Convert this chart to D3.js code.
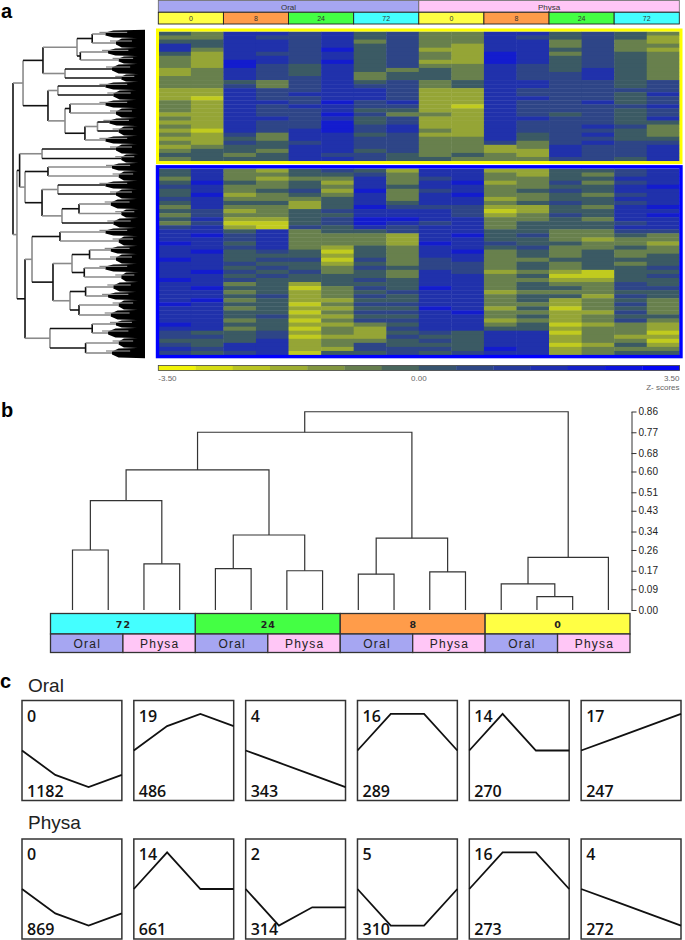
<!DOCTYPE html>
<html>
<head>
<meta charset="utf-8">
<script src="https://cdn.jsdelivr.net/npm/d3@7"></script>
<style>
  body { margin: 0; background: #fff; }
  svg { display: block; font-family: "Liberation Sans", Arial, sans-serif; }
</style>
</head>
<body>
<script>
// ---------- data ----------
var hosts = ["Oral", "Physa"];
var timepoints = ["0", "8", "24", "72"];

// heat map bands, 16 columns: Oral 0,0,8,8,24,24,72,72 then Physa the same
// each digit d is a level, z-score = (d - 3) * 0.8
var heatTop = [
  "3255453422553432", "2254453422543431", "3355452422552421", "5355453421552422",
  "5255463411553421", "3154453421652432", "2155453421653432", "2165463411653432",
  "2164353422543432", "1254353232543532", "1254352332544532", "2254452332544532",
  "2232453423554434", "2242454423554434", "1154455411544444", "1154555411544435",
  "1054455411554434", "2155464511544534", "2154554410544445", "2154453311544434",
  "1154464221543434", "2155453411554435", "1154463411544433", "2154464511544542",
  "1054564521544432", "2142553411534532", "1132554422534433", "2143454422424544",
  "1233554422125445", "2332553422115445", "3323544323215445", "2333554332224435"
];
var heatBottom = [
  "3521343155113345", "3522334255213245", "2521225245223355", "3632315256124245",
  "4522325355223356", "3523416245234355", "3612325256223245", "4522235255123355",
  "3533135355234345", "2522136444113256", "3412345554013355", "2422335554124356",
  "3511346655223255", "2400346545233345", "4510435455233355", "5535233455332244",
  "5645222156342232", "5545222155332122", "6535222165433221", "5545213255342232",
  "5634303256232322", "5533313255232323", "6534404245223333", "5543313244232323",
  "5534324344232334", "5643423254121033", "5534333255230034", "6543334355221133",
  "5523133355232243", "5633024365233244", "5523123455122233", "5534124355233143",
  "5623113355231232", "6533024455221242", "5523113365130232", "5533024456221142",
  "5534113355231233", "5523024455121242", "6533112355230121", "5523021455331221",
  "4334121343550220", "4434011433551211", "3335122343551220", "4355124333550131",
  "5455114443651222", "4345033434551233"
];
var zLegend = [-3.5, 0, 3.5];

// gene dendrogram: leaf groups (rows) and the distance where each group fans out
var rowLeafSize = [8, 10, 8, 8, 10, 8, 8, 10, 8, 10, 8, 10, 8, 10, 9,
                   8, 10, 8, 10, 10, 9, 10,
                   8, 10, 8, 10, 8, 10, 10, 8, 10, 10, 8, 10, 10, 10];
var rowLeafDist = [0.30, 0.22, 0.28, 0.20, 0.25, 0.18, 0.30, 0.24, 0.30, 0.22, 0.27, 0.20, 0.30, 0.22, 0.18,
                   0.25, 0.20, 0.30, 0.22, 0.26, 0.18, 0.24,
                   0.30, 0.20, 0.26, 0.22, 0.30, 0.18, 0.24, 0.28, 0.20, 0.26, 0.22, 0.28, 0.20, 0.25];
// [distance, upper, lower]; numbers are leaf groups
var rowTree = [1.0,
  [0.924,
    [0.773, [0.515, [0.40, 0, 1], [0.49, 2, 3]], [0.606, 4, 5]],
    [0.735, [0.66, 6, 7], [0.606, [0.568, 8, 9], [0.455, [0.36, 10, 11], 12]]]],
  [0.97,
    [0.95, [0.78, 13, 14], [0.909, [0.735, 15, 16], [0.78, [0.66, 17, 18], [0.629, [0.50, 19, 20], 21]]]],
    [0.909,
      [0.856, [0.644, 22, 23], [0.697, [0.553, [0.42, 24, 25], [0.46, 26, 27]], [0.568, [0.45, 28, 29], [0.50, 30, 31]]]],
      [0.72, [0.40, 32, 33], [0.45, 34, 35]]]]
];

// sample dendrogram, leaves 0..15 = 72,24,8,0 x (Oral r1, r2, Physa r1, r2)
var sampleGroups = ["72", "24", "8", "0"];
var sampleTree = [0.859,
  [0.770,
    [0.607, [0.474, [0.26, 0, 1], [0.20, 2, 3]], [0.325, [0.179, 4, 5], [0.170, 6, 7]]],
    [0.311, [0.155, 8, 9], [0.165, 10, 11]]],
  [0.228, [0.113, 12, [0.058, 13, 14]], 15]
];
var distTicks = [0.00, 0.09, 0.17, 0.26, 0.34, 0.43, 0.51, 0.60, 0.68, 0.77, 0.86];

// expression profiles (values at 0, 8, 24, 72 h)
var oralIds = [0, 19, 4, 16, 14, 17];
var oralCounts = [1182, 486, 343, 289, 270, 247];
var oralShapes = [[0, -2, -3, -2], [0, 2, 3, 2], [0, -1, -2, -3], [0, 3, 3, 0], [0, 3, 0, 0], [0, 1, 2, 3]];
var physaIds = [0, 14, 2, 5, 16, 4];
var physaCounts = [869, 661, 314, 310, 273, 272];
var physaShapes = [[0, -2, -3, -2], [0, 3, 0, 0], [0, -3, -1.5, -1.5], [0, -3, -3, 0], [0, 3, 3, 0], [0, -1, -2, -3]];

// ---------- drawing ----------
var width = 685, height = 940;
var svg = d3.select("body").append("svg").attr("width", width).attr("height", height);

function panelLabel(t, x, y) {
  svg.append("text").attr("x", x).attr("y", y)
    .attr("font-size", 20).attr("font-weight", "bold").text(t);
}
panelLabel("a", 1, 18);
panelLabel("b", 1, 417);
panelLabel("c", 0, 688);

function toNode(a) {
  if (typeof a === "number") return { leaf: a };
  return { h: a[0], children: [toNode(a[1]), toNode(a[2])] };
}

// ----- panel a : header -----
var heatLeft = 158.3, heatRight = 679.3;
var heatX = d3.scaleBand().domain(d3.range(16)).range([heatLeft, heatRight]);
var hostX = d3.scaleBand().domain(hosts).range([heatLeft, heatRight]);
var timeX = d3.scaleBand().domain(timepoints).range([0, hostX.bandwidth()]);
var hostColor = d3.scaleOrdinal(hosts, ["#a6a6f2", "#ffc6f6"]);
var timeColor = d3.scaleOrdinal(timepoints, ["#ffff44", "#ff9c4a", "#44ff44", "#44ffff"]);
var zColor = d3.scaleLinear().domain(zLegend).range(["#ffff00", "#3b5a64", "#0000ff"]);

var head = svg.append("g");
head.selectAll("rect.host").data(hosts).join("rect").attr("class", "host")
  .attr("x", d => hostX(d)).attr("y", 0.5)
  .attr("width", hostX.bandwidth()).attr("height", 11.5)
  .attr("fill", d => hostColor(d)).attr("stroke", "#666").attr("stroke-width", 0.8);
head.selectAll("text.host").data(hosts).join("text").attr("class", "host")
  .attr("x", d => hostX(d) + hostX.bandwidth() / 2).attr("y", 9.5)
  .attr("text-anchor", "middle").attr("font-size", 8).attr("fill", "#333").text(d => d);

var cells = d3.cross(hosts, timepoints);
head.selectAll("rect.time").data(cells).join("rect").attr("class", "time")
  .attr("x", d => hostX(d[0]) + timeX(d[1])).attr("y", 12.3)
  .attr("width", timeX.bandwidth()).attr("height", 11.7)
  .attr("fill", d => timeColor(d[1])).attr("stroke", "#222").attr("stroke-width", 0.9);
head.selectAll("text.time").data(cells).join("text").attr("class", "time")
  .attr("x", d => hostX(d[0]) + timeX(d[1]) + timeX.bandwidth() / 2).attr("y", 21)
  .attr("text-anchor", "middle").attr("font-size", 7).attr("fill", "#333").text(d => d[1]);

// ----- panel a : heat map -----
function drawCluster(rows, y0, y1, box, colour, sw) {
  var rowY = d3.scaleBand().domain(d3.range(rows.length)).range([y0, y1]);
  var g = svg.append("g");
  rows.forEach(function (r, i) {
    g.selectAll(null).data(r.split("").map(c => (+c - 3) * 0.8)).join("rect")
      .attr("x", (d, j) => heatX(j)).attr("y", rowY(i))
      .attr("width", heatX.bandwidth() + 0.4).attr("height", rowY.bandwidth() + 0.4)
      .attr("fill", d => zColor(d));
  });
  svg.append("rect").attr("x", box[0]).attr("y", box[1])
    .attr("width", box[2] - box[0]).attr("height", box[3] - box[1])
    .attr("fill", "none").attr("stroke", colour).attr("stroke-width", sw);
}
drawCluster(heatTop, 31.5, 161, [157.5, 30, 681, 162.6], "#ffff00", 3);
drawCluster(heatBottom, 168.5, 355, [157.5, 166.8, 681, 356.6], "#0000ff", 3.4);

// ----- panel a : colour key -----
var keyX = d3.scaleLinear().domain([zLegend[0], zLegend[2]]).range([158.3, 679.5]);
var keySteps = d3.range(zLegend[0], zLegend[2], 0.5);
svg.append("g").selectAll("rect").data(keySteps).join("rect")
  .attr("x", d => keyX(d)).attr("y", 365.5)
  .attr("width", keyX(zLegend[0] + 0.5) - keyX(zLegend[0]) + 0.3).attr("height", 5)
  .attr("fill", d => zColor(d + 0.25));
svg.append("rect").attr("x", keyX(zLegend[0])).attr("y", 365.5)
  .attr("width", keyX(zLegend[2]) - keyX(zLegend[0])).attr("height", 5)
  .attr("fill", "none").attr("stroke", "#444").attr("stroke-width", 0.8);
svg.append("g").selectAll("text").data(zLegend).join("text")
  .attr("x", d => keyX(d)).attr("y", 381)
  .attr("text-anchor", (d, i) => ["start", "middle", "end"][i])
  .attr("font-size", 8).attr("fill", "#666").text(d => d.toFixed(2));
svg.append("text").attr("x", keyX(zLegend[2])).attr("y", 390)
  .attr("text-anchor", "end").attr("font-size", 8).attr("fill", "#666").text("Z- scores");

// ----- panel a : gene dendrogram -----
var rowRoot = d3.hierarchy(toNode(rowTree));
var cum = d3.cumsum([0].concat(rowLeafSize));
var geneY = d3.scaleLinear().domain([0, cum[cum.length - 1]]).range([30, 358]);
var geneX = d3.scaleLinear().domain([0, 1]).range([145, 13]);

rowRoot.eachAfter(function (n) {
  if (!n.children) {
    var i = n.data.leaf;
    n.y0 = geneY(cum[i]);
    n.y1 = geneY(cum[i + 1]);
    n.py = (n.y0 + n.y1) / 2;
    n.px = geneX(rowLeafDist[i]);
  } else {
    n.py = (n.children[0].py + n.children[1].py) / 2;
    n.px = geneX(n.data.h);
  }
});

var dendro = svg.append("g").attr("fill", "none").attr("stroke-width", 1.6);
var lineColour = n => (n.depth % 2 ? "#8a8a8a" : "#111");

// fans of dense leaves
var xEnd = geneX(0);
dendro.selectAll("path.fan").data(rowRoot.leaves()).join("path").attr("class", "fan")
  .attr("d", function (n) {
    var xm = n.px + (xEnd - n.px) * 0.2;
    return "M" + n.px + "," + (n.py - 1.5) + "L" + xm + "," + (n.y0 + 0.4) + "L" + xEnd + "," + (n.y0 - 0.3) +
      "L" + xEnd + "," + (n.y1 + 0.3) + "L" + xm + "," + (n.y1 - 0.4) + "L" + n.px + "," + (n.py + 1.5) + "Z";
  })
  .attr("fill", "#000").attr("stroke", "none");
// lighter sub-branches inside the fans
dendro.selectAll("line.sub").data(rowRoot.leaves()).join("line").attr("class", "sub")
  .attr("x1", n => n.px - 6).attr("x2", n => n.px + (xEnd - n.px) * 0.55)
  .attr("y1", n => n.y0 + (n.y1 - n.y0) * 0.3).attr("y2", n => n.y0 + (n.y1 - n.y0) * 0.3)
  .attr("stroke", "#888").attr("stroke-width", 1.2);

rowRoot.descendants().filter(n => n.children).forEach(function (n) {
  dendro.append("line")
    .attr("x1", n.px).attr("x2", n.px)
    .attr("y1", n.children[0].py).attr("y2", n.children[1].py)
    .attr("stroke", lineColour(n));
  n.children.forEach(function (c) {
    dendro.append("line")
      .attr("x1", n.px).attr("x2", c.px)
      .attr("y1", c.py).attr("y2", c.py)
      .attr("stroke", lineColour(c));
  });
});

// ----- panel b : sample dendrogram -----
var leafX = d3.scalePoint().domain(d3.range(16)).range([72.5, 608.4]);
var distY = d3.scaleLinear().domain([0, 0.86]).range([610, 411.5]);
var sRoot = d3.hierarchy(toNode(sampleTree));
sRoot.eachAfter(function (n) {
  if (!n.children) {
    n.px = leafX(n.data.leaf);
    n.py = distY(0);
  } else {
    n.px = (n.children[0].px + n.children[1].px) / 2;
    n.py = distY(n.data.h);
  }
});
svg.append("g").selectAll("path").data(sRoot.descendants().filter(n => n.children)).join("path")
  .attr("d", function (n) {
    var a = n.children[0], b = n.children[1];
    return "M" + a.px + "," + a.py + "V" + n.py + "H" + b.px + "V" + b.py;
  })
  .attr("fill", "none").attr("stroke", "#333").attr("stroke-width", 1.2);

var axisB = svg.append("g").attr("transform", "translate(631.5,0)")
  .call(d3.axisRight(distY).tickValues(distTicks).tickFormat(d => d.toFixed(2))
    .tickSize(5).tickSizeOuter(0).tickPadding(2));
axisB.selectAll("text").attr("font-size", 10).attr("font-family", "Liberation Sans, Arial, sans-serif").attr("fill", "#222");
axisB.selectAll("line, path").attr("stroke", "#333");

var groupX = d3.scaleBand().domain(sampleGroups).range([50.5, 630]);
var subX = d3.scaleBand().domain(hosts).range([0, groupX.bandwidth()]);
var bars = svg.append("g");
bars.selectAll("rect.grp").data(sampleGroups).join("rect").attr("class", "grp")
  .attr("x", d => groupX(d)).attr("y", 613.5)
  .attr("width", groupX.bandwidth()).attr("height", 20.5)
  .attr("fill", d => timeColor(d)).attr("stroke", "#333").attr("stroke-width", 1.3);
bars.selectAll("text.grp").data(sampleGroups).join("text").attr("class", "grp")
  .attr("x", d => groupX(d) + groupX.bandwidth() / 2 + 0.5).attr("y", 627.5)
  .attr("text-anchor", "middle").attr("font-family", "DejaVu Sans, sans-serif")
  .attr("font-weight", "bold").attr("font-size", 9.5).attr("letter-spacing", 1)
  .attr("fill", "#222").text(d => d);
var subCells = d3.cross(sampleGroups, hosts);
bars.selectAll("rect.sub").data(subCells).join("rect").attr("class", "sub")
  .attr("x", d => groupX(d[0]) + subX(d[1])).attr("y", 634)
  .attr("width", subX.bandwidth()).attr("height", 18.5)
  .attr("fill", d => hostColor(d[1])).attr("stroke", "#333").attr("stroke-width", 1.3);
bars.selectAll("text.sub").data(subCells).join("text").attr("class", "sub")
  .attr("x", d => groupX(d[0]) + subX(d[1]) + subX.bandwidth() / 2 + 0.6).attr("y", 648)
  .attr("text-anchor", "middle").attr("font-size", 12).attr("letter-spacing", 1.2)
  .attr("fill", "#222").text(d => d[1]);

// ----- panel c : profiles -----
var boxH = 100;
var boxX = d3.scaleBand().domain(d3.range(6)).range([22, 681]).paddingInner(0.107);
var stepX = d3.scalePoint().domain(timepoints).range([0, boxX.bandwidth()]);
var profY = d3.scaleLinear().domain([-4.1, 4.1]).range([boxH, 0]);
var profLine = d3.line().x((d, i) => stepX(timepoints[i])).y(d => profY(d));

function profileRow(title, titleY, top, ids, counts, shapes) {
  svg.append("text").attr("x", 28).attr("y", titleY).attr("font-size", 19).attr("fill", "#222").text(title);
  var g = svg.append("g").selectAll("g").data(d3.range(6)).join("g")
    .attr("transform", i => "translate(" + boxX(i) + "," + top + ")");
  g.append("rect").attr("width", boxX.bandwidth()).attr("height", boxH)
    .attr("fill", "#fff").attr("stroke", "#333").attr("stroke-width", 1.5);
  g.append("path").attr("d", i => profLine(shapes[i]))
    .attr("fill", "none").attr("stroke", "#111").attr("stroke-width", 1.8);
  g.append("text").attr("x", 5).attr("y", 21)
    .attr("font-family", "Open Sans, sans-serif").attr("font-weight", 600).attr("font-size", 16)
    .attr("fill", "#111").text(i => ids[i]);
  g.append("text").attr("x", 5).attr("y", boxH - 4)
    .attr("font-family", "Open Sans, sans-serif").attr("font-weight", 600).attr("font-size", 16)
    .attr("fill", "#111").text(i => counts[i]);
}
profileRow("Oral", 692, 700.5, oralIds, oralCounts, oralShapes);
profileRow("Physa", 829, 839, physaIds, physaCounts, physaShapes);
</script>
</body>
</html>
